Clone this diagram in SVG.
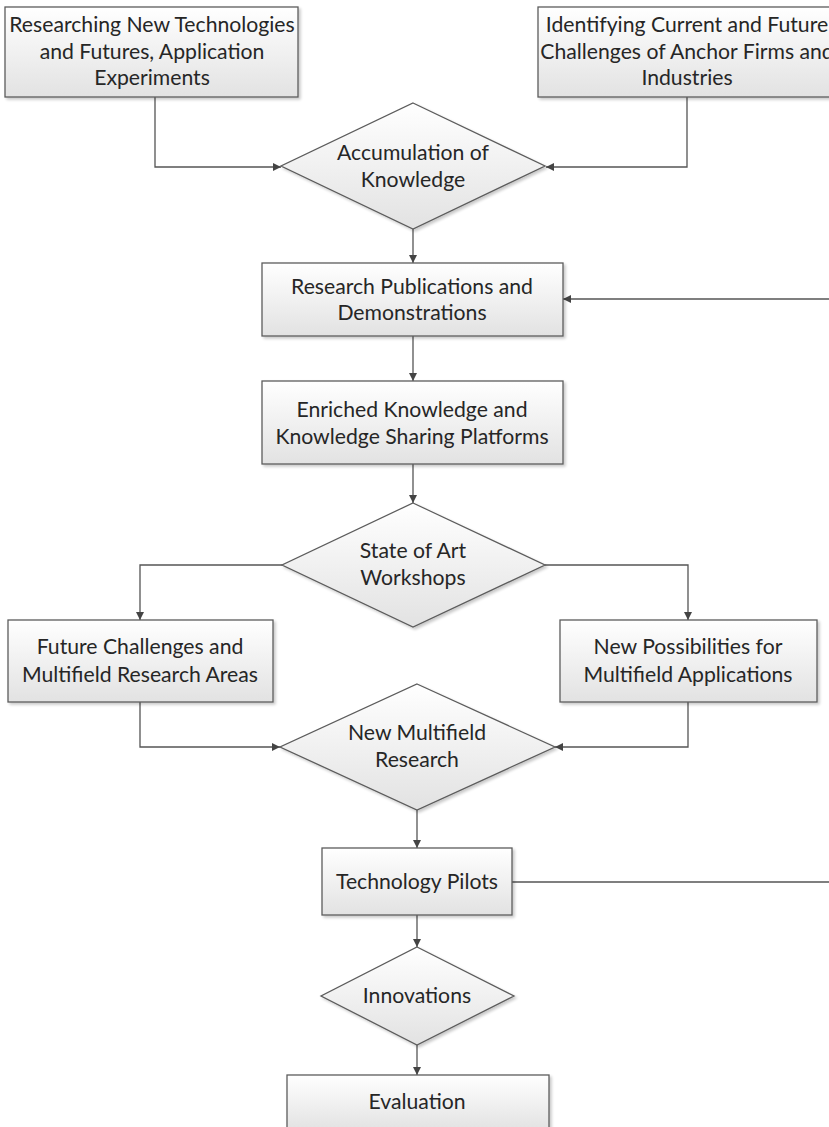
<svg xmlns="http://www.w3.org/2000/svg" width="829" height="1127" viewBox="0 0 829 1127">
  <defs>
    <linearGradient id="fillGrad" x1="0" y1="0" x2="0" y2="1">
      <stop offset="0" stop-color="#ffffff"/>
      <stop offset="1" stop-color="#e2e2e2"/>
    </linearGradient>
    <filter id="shadow" x="-5%" y="-5%" width="115%" height="125%">
      <feGaussianBlur in="SourceAlpha" stdDeviation="1.5"/>
      <feOffset dx="2" dy="2" result="b"/>
      <feComponentTransfer><feFuncA type="linear" slope="0.22"/></feComponentTransfer>
      <feMerge><feMergeNode/><feMergeNode in="SourceGraphic"/></feMerge>
    </filter>
    <marker id="arrow" viewBox="0 0 10 10" refX="10" refY="5" markerWidth="9" markerHeight="8" markerUnits="userSpaceOnUse" orient="auto">
      <path d="M0,0 L10,5 L0,10 z" fill="#444444"/>
    </marker>
  </defs>
  <style>
    .shape { fill: url(#fillGrad); stroke: #5c5c5c; stroke-width: 1.3; filter: url(#shadow); }
    .label { font-family: Lato, "Open Sans", sans-serif; font-size: 21.2px; fill: #262626; text-anchor: middle; }
    .conn { fill: none; stroke: #555555; stroke-width: 1.3; }
    .arr { marker-end: url(#arrow); }
  </style>
  <rect width="829" height="1127" fill="#ffffff"/>

  <!-- connectors -->
  <g id="connectors">
    <path class="conn arr" d="M155,97 V167 H281"/>
    <path class="conn arr" d="M687,97 V167 H546"/>
    <path class="conn arr" d="M413,229 V263"/>
    <path class="conn arr" d="M413,336 V381"/>
    <path class="conn arr" d="M413,464 V503"/>
    <path class="conn arr" d="M282,565 H140 V620"/>
    <path class="conn arr" d="M545,565 H688 V620"/>
    <path class="conn arr" d="M140,702 V747 H280"/>
    <path class="conn arr" d="M688,702 V747 H555"/>
    <path class="conn arr" d="M417,810 V848"/>
    <path class="conn arr" d="M512,882 H845 V299 H563"/>
    <path class="conn arr" d="M417,915 V947"/>
    <path class="conn arr" d="M417,1045 V1075"/>
  </g>

  <g id="n-research-tech">
    <rect class="shape" x="5" y="7" width="293" height="90"/>
    <text class="label" x="152" y="31.5">Researching New Technologies</text>
    <text class="label" x="152" y="58.5">and Futures, Application</text>
    <text class="label" x="152" y="84.5">Experiments</text>
  </g>

  <g id="n-identifying">
    <rect class="shape" x="538" y="7" width="298" height="90"/>
    <text class="label" x="687" y="31.5">Identifying Current and Future</text>
    <text class="label" x="687" y="58.5">Challenges of Anchor Firms and</text>
    <text class="label" x="687" y="84.5">Industries</text>
  </g>

  <g id="n-accumulation">
    <polygon class="shape" points="413,103 545,166 413,229 281,166"/>
    <text class="label" x="413" y="159.5">Accumulation of</text>
    <text class="label" x="413" y="186.5">Knowledge</text>
  </g>

  <g id="n-publications">
    <rect class="shape" x="262" y="263" width="301" height="73"/>
    <text class="label" x="412" y="293.5">Research Publications and</text>
    <text class="label" x="412" y="319.5">Demonstrations</text>
  </g>

  <g id="n-enriched">
    <rect class="shape" x="262" y="381" width="301" height="83"/>
    <text class="label" x="412" y="416.5">Enriched Knowledge and</text>
    <text class="label" x="412" y="443.5">Knowledge Sharing Platforms</text>
  </g>

  <g id="n-workshops">
    <polygon class="shape" points="413,503 545,565 413,627 282,565"/>
    <text class="label" x="413" y="557.5">State of Art</text>
    <text class="label" x="413" y="584.5">Workshops</text>
  </g>

  <g id="n-future-challenges">
    <rect class="shape" x="8" y="620" width="265" height="82"/>
    <text class="label" x="140" y="653.5">Future Challenges and</text>
    <text class="label" x="140" y="681.5">Multifield Research Areas</text>
  </g>

  <g id="n-new-possibilities">
    <rect class="shape" x="560" y="620" width="257" height="82"/>
    <text class="label" x="688" y="653.5">New Possibilities for</text>
    <text class="label" x="688" y="681.5">Multifield Applications</text>
  </g>

  <g id="n-multifield-research">
    <polygon class="shape" points="417,684 555,747 417,810 280,747"/>
    <text class="label" x="417" y="739.5">New Multifield</text>
    <text class="label" x="417" y="767">Research</text>
  </g>

  <g id="n-pilots">
    <rect class="shape" x="322" y="848" width="190" height="67"/>
    <text class="label" x="417" y="888.5">Technology Pilots</text>
  </g>

  <g id="n-innovations">
    <polygon class="shape" points="417,947 514,996 417,1045 321,996"/>
    <text class="label" x="417" y="1002.5">Innovations</text>
  </g>

  <g id="n-evaluation">
    <rect class="shape" x="287" y="1075" width="262" height="56"/>
    <text class="label" x="417" y="1108.5">Evaluation</text>
  </g>
</svg>
